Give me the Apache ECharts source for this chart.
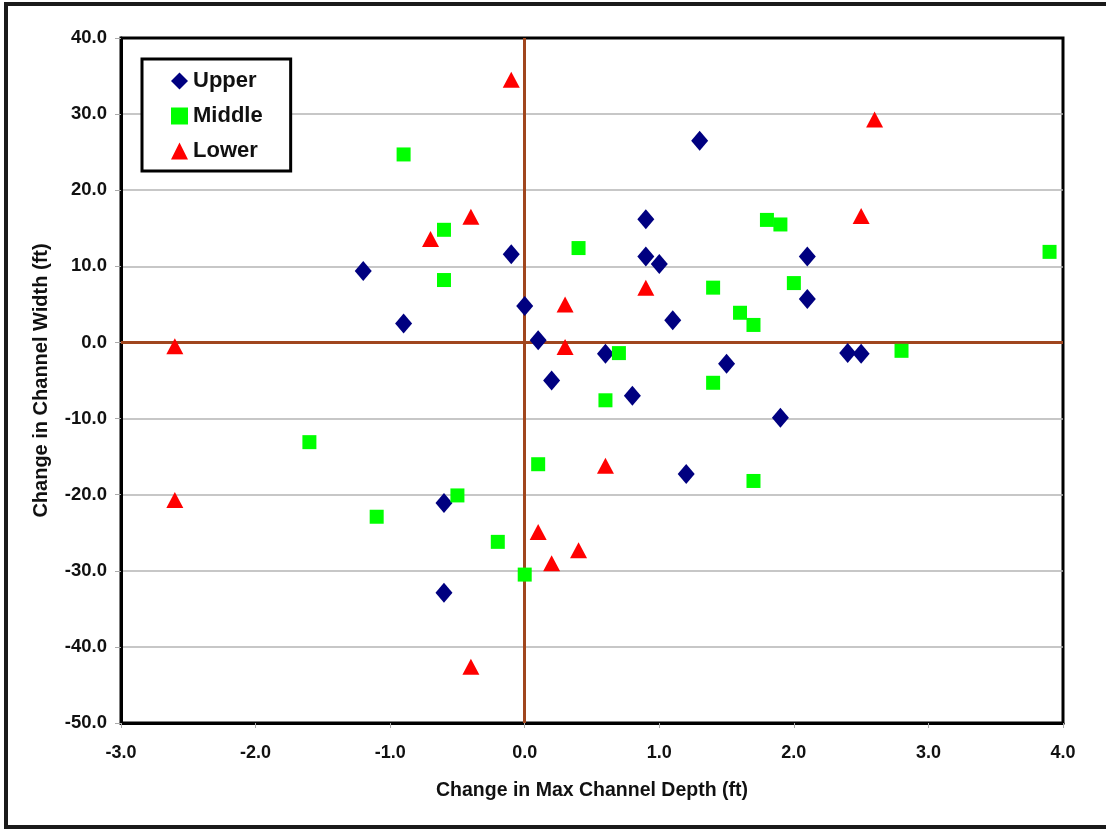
<!DOCTYPE html>
<html>
<head>
<meta charset="utf-8">
<script src="https://cdn.jsdelivr.net/npm/echarts@6/dist/echarts.min.js"></script>
<style>
  html, body { margin: 0; padding: 0; background: #fff; overflow: hidden; }
  #frame { position: absolute; left: 4px; top: 2px; width: 1112px; height: 827px; border: 4px solid #1a1a1a; box-sizing: border-box; }
  #chart { position: absolute; left: 0; top: 0; width: 1106px; height: 829px; }
</style>
</head>
<body>
<div id="frame"></div>
<div id="chart"></div>
<script>
// Change in max channel depth (ft), change in channel width (ft)
const upperDepth = [-1.2, -0.9, -0.1, 0.0, 0.1, 0.2, 0.6, 0.8, 0.9, 0.9, 1.0, 1.1, 1.3, 1.5, 1.2, 1.9, 2.1, 2.1, 2.4, 2.5, -0.6, -0.6];
const upperWidth = [9.4, 2.5, 11.6, 4.8, 0.3, -5.0, -1.5, -7.0, 16.2, 11.3, 10.3, 2.9, 26.5, -2.8, -17.3, -9.9, 11.3, 5.7, -1.4, -1.5, -21.1, -32.9];

const middleDepth = [-0.9, -0.6, -0.6, 0.4, 0.7, 0.6, 1.4, 1.6, 1.7, 1.8, 1.9, 2.0, 1.4, 2.8, 3.9, 1.7, 0.1, -1.6, -0.5, -1.1, -0.2, 0.0];
const middleWidth = [24.7, 14.8, 8.2, 12.4, -1.4, -7.6, 7.2, 3.9, 2.3, 16.1, 15.5, 7.8, -5.3, -1.1, 11.9, -18.2, -16.0, -13.1, -20.1, -22.9, -26.2, -30.5];

const lowerDepth = [-0.1, -0.4, -0.7, 0.3, 0.3, 0.9, 2.6, 2.5, -2.6, -2.6, 0.6, 0.1, 0.2, 0.4, -0.4];
const lowerWidth = [34.5, 16.5, 13.6, 5.0, -0.6, 7.2, 29.3, 16.6, -0.5, -20.7, -16.2, -24.9, -29.0, -27.3, -42.6];

const pairs = (xs, ys) => xs.map((x, i) => [x, ys[i]]);

const chart = echarts.init(document.getElementById('chart'));
const labelFont = { fontFamily: 'Liberation Sans, Arial, sans-serif', fontWeight: 'bold', color: '#111' };

chart.setOption({
  animation: false,
  textStyle: { fontFamily: 'Liberation Sans, Arial, sans-serif' },
  grid: {
    left: 121, top: 38, right: 43, bottom: 106,
    show: true, borderColor: '#000', borderWidth: 3, backgroundColor: '#fff'
  },
  legend: {
    orient: 'vertical',
    left: 142, top: 59,
    padding: [11, 28, 9, 29],
    itemGap: 13,
    itemWidth: 17, itemHeight: 17,
    borderColor: '#000', borderWidth: 3,
    backgroundColor: '#fff',
    textStyle: Object.assign({ fontSize: 22, padding: [0, 0, 0, 0] }, labelFont),
    data: [
      { name: 'Upper', icon: 'diamond' },
      { name: 'Middle', icon: 'rect' },
      { name: 'Lower', icon: 'triangle' }
    ]
  },
  xAxis: {
    type: 'value', min: -3, max: 4, interval: 1,
    name: 'Change in Max Channel Depth (ft)',
    nameLocation: 'middle', nameGap: 58,
    nameTextStyle: Object.assign({ fontSize: 19.5 }, labelFont),
    axisLine: { show: true, onZero: false, lineStyle: { color: '#000', width: 3 } },
    axisTick: { show: true, length: 5, lineStyle: { color: '#aaa' } },
    axisLabel: Object.assign({ fontSize: 18, margin: 21, formatter: v => v.toFixed(1) }, labelFont),
    splitLine: { show: false }
  },
  yAxis: {
    type: 'value', min: -50, max: 40, interval: 10,
    name: 'Change in Channel Width (ft)',
    nameLocation: 'middle', nameGap: 70,
    nameTextStyle: Object.assign({ fontSize: 20 }, labelFont),
    axisLine: { show: true, onZero: false, lineStyle: { color: '#000', width: 3 } },
    axisTick: { show: true, length: 6, lineStyle: { color: '#aaa' } },
    axisLabel: Object.assign({ fontSize: 18.5, margin: 14, formatter: v => v.toFixed(1) }, labelFont),
    splitLine: { show: true, showMinLine: false, showMaxLine: false, lineStyle: { color: '#b4b4b4', width: 1.5 } }
  },
  series: [
    {
      name: 'Upper', type: 'scatter', symbol: 'diamond', symbolSize: [17, 20],
      itemStyle: { color: '#000080', opacity: 1 },
      data: pairs(upperDepth, upperWidth),
      z: 3,
      markLine: {
        silent: true, symbol: 'none', label: { show: false },
        lineStyle: { color: '#a0461e', width: 3, type: 'solid' },
        data: [{ xAxis: 0 }, { yAxis: 0 }],
        z: 2
      }
    },
    {
      name: 'Middle', type: 'scatter', symbol: 'rect', symbolSize: 14,
      itemStyle: { color: '#00ff00', opacity: 1 },
      data: pairs(middleDepth, middleWidth),
      z: 3
    },
    {
      name: 'Lower', type: 'scatter', symbol: 'triangle', symbolSize: [17, 16],
      itemStyle: { color: '#ff0000', opacity: 1 },
      data: pairs(lowerDepth, lowerWidth),
      z: 3
    }
  ]
});
</script>
</body>
</html>
